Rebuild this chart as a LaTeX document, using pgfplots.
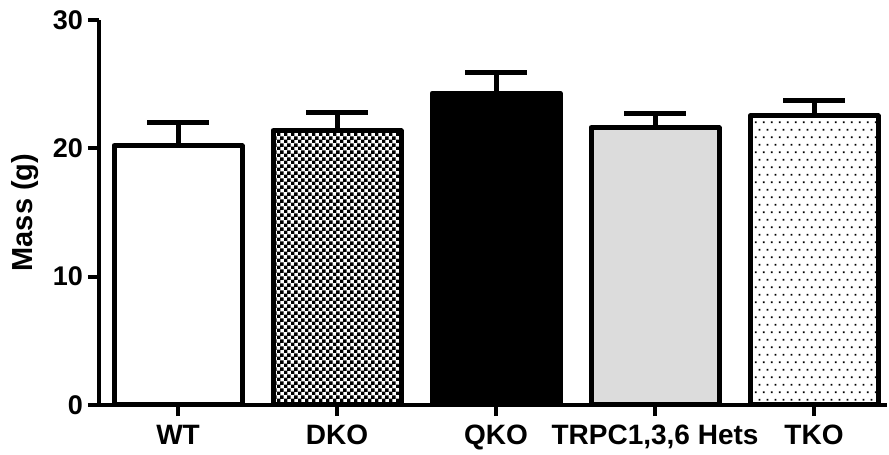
\documentclass[border=0pt]{standalone}
\usepackage{fontspec}
\setmainfont{Liberation Sans}
\usepackage{pgfplots}
\pgfplotsset{compat=1.18}
\usetikzlibrary{patterns}

% fine black/white checkerboard fill
\pgfdeclarepatternformonly{finechecker}{\pgfpointorigin}{\pgfqpoint{6.6pt}{6.6pt}}{\pgfqpoint{6.6pt}{6.6pt}}{%
  \pgfpathrectangle{\pgfpointorigin}{\pgfqpoint{3.6pt}{3.6pt}}%
  \pgfpathrectangle{\pgfqpoint{3.3pt}{3.3pt}}{\pgfqpoint{3.6pt}{3.6pt}}%
  \pgfusepath{fill}}
% sparse staggered dots
\pgfdeclarepatternformonly{sparsedots}{\pgfpointorigin}{\pgfqpoint{7.7pt}{15.4pt}}{\pgfqpoint{7.7pt}{15.4pt}}{%
  \pgfpathrectangle{\pgfqpoint{1pt}{1pt}}{\pgfqpoint{1.8pt}{1.8pt}}%
  \pgfpathrectangle{\pgfqpoint{4.85pt}{8.7pt}}{\pgfqpoint{1.8pt}{1.8pt}}%
  \pgfusepath{fill}}

\definecolor{lightbar}{RGB}{220,220,220}

\pgfplotsset{
  massbar/.style={
    ybar, bar width=128pt, bar shift=0pt,
    draw=black, line width=5pt, line join=round,
    error bars/y dir=plus, error bars/y explicit,
    error bars/error bar style={line width=5pt, black},
    error bars/error mark options={rotate=90, mark size=31pt, line width=5pt, black},
  },
}

\begin{document}
\begin{tikzpicture}
\begin{axis}[
  scale only axis, width=788pt, height=385pt,
  xmin=-0.497, xmax=4.459, ymin=0, ymax=30,
  clip=false,
  axis x line=bottom, axis y line=left,
  axis line style={-, line width=4pt, black},
  xtick={0,1,2,3,4},
  xticklabels={WT,DKO,QKO,{TRPC1,3,6 Hets},TKO},
  ytick={0,10,20,30},
  tick align=outside, major tick length=11pt,
  tick style={line width=4pt, black},
  /pgf/number format/assume math mode=true,
  xticklabel style={font=\bfseries\fontsize{28}{28}\selectfont, inner sep=0pt, yshift=-9pt},
  yticklabel style={font=\bfseries\fontsize{27}{27}\selectfont, inner sep=0pt, xshift=-5pt},
  ylabel={Mass (g)},
  every axis y label/.style={at={(axis description cs:-0.0838,0.5)}, anchor=base, rotate=90,
    font=\bfseries\fontsize{29}{29}\selectfont},
]
\addplot[massbar, fill=white] coordinates {(0,20.2) +- (0,1.79)};
\addplot[massbar, pattern=finechecker] coordinates {(1,21.37) +- (0,1.43)};
\addplot[massbar, fill=black] coordinates {(2,24.3) +- (0,1.58)};
\addplot[massbar, fill=lightbar] coordinates {(3,21.61) +- (0,1.07)};
\addplot[massbar, pattern=sparsedots] coordinates {(4,22.53) +- (0,1.18)};
\end{axis}
\pgfresetboundingbox
\path[use as bounding box] ([xshift=-99pt,yshift=-50pt]current axis.south west) rectangle ([xshift=2pt,yshift=20pt]current axis.north east);
\end{tikzpicture}
\end{document}
